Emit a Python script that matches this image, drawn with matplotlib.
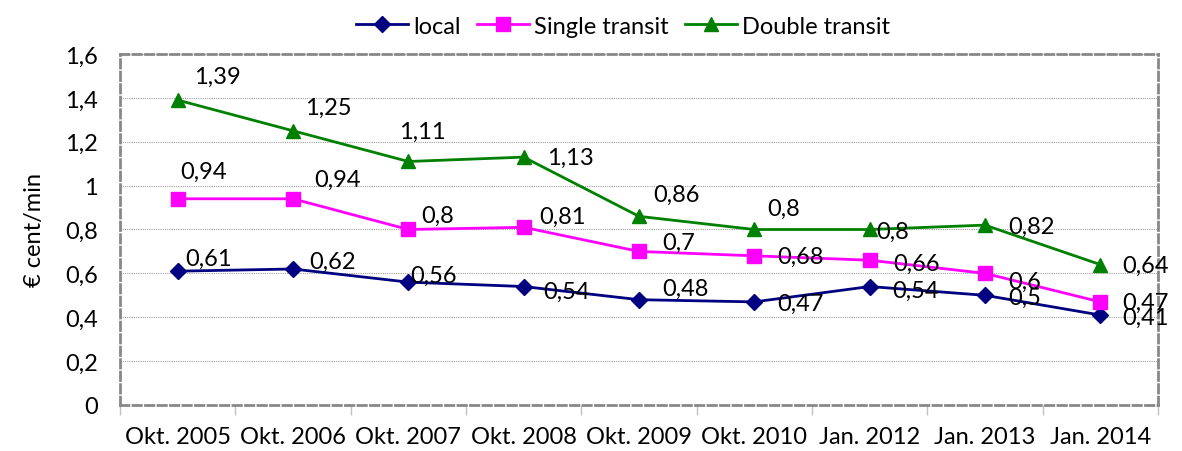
import matplotlib
matplotlib.use('Agg')
import matplotlib.pyplot as plt
from matplotlib.ticker import FuncFormatter, FixedLocator
import numpy as np

periods = ['Okt. 2005', 'Okt. 2006', 'Okt. 2007', 'Okt. 2008', 'Okt. 2009',
           'Okt. 2010', 'Jan. 2012', 'Jan. 2013', 'Jan. 2014']
local = [0.61, 0.62, 0.56, 0.54, 0.48, 0.47, 0.54, 0.50, 0.41]
single_transit = [0.94, 0.94, 0.80, 0.81, 0.70, 0.68, 0.66, 0.60, 0.47]
double_transit = [1.39, 1.25, 1.11, 1.13, 0.86, 0.80, 0.80, 0.82, 0.64]

# label offsets in pixels (left edge of text, vertical centre; +y is up)
off_local = [(8, 13), (16, 8), (2, 7), (20, -5), (23, 11), (23, -1), (23, -4), (23, -2), (22, -2)]
off_single = [(3, 27), (21, 19), (13, 14), (16, 11), (23, 9), (23, -1), (24, -3), (23, -8), (22, 0)]
off_double = [(16, 24), (12, 23), (-9, 30), (23, 0), (14, 22), (13, 21), (7, -2), (23, -1), (22, -1)]

plt.rcParams['font.family'] = ['Lato', 'DejaVu Sans']
FS = 17

def fmt(v):
    s = ('%.2f' % v).rstrip('0').rstrip('.')
    return s.replace('.', ',')

fig = plt.figure(figsize=(11.82, 4.52), dpi=100)
ax = fig.add_axes([0.1015, 0.1018, 0.8782, 0.7765])

x = np.arange(len(periods))
series = [
    ('local', local, '#000080', 'D', 8, off_local),
    ('Single transit', single_transit, '#FF00FF', 's', 10, off_single),
    ('Double transit', double_transit, '#008000', '^', 10, off_double),
]
for name, vals, col, mk, ms, offs in series:
    ax.plot(x, vals, color=col, lw=2, marker=mk, ms=ms, label=name, zorder=3)
    for xi, v, (dx, dy) in zip(x, vals, offs):
        ax.annotate(fmt(v), (xi, v), xytext=(dx, dy), textcoords='offset pixels',
                    ha='left', va='center', fontsize=FS, color='black',
                    annotation_clip=False, zorder=4)

ax.set_xlim(-0.5, len(periods) - 0.5)
ax.set_ylim(0, 1.6)
ax.set_yticks(np.arange(0, 1.61, 0.2))
ax.yaxis.set_major_formatter(FuncFormatter(lambda v, p: fmt(v)))
ax.set_xticks(x)
ax.set_xticklabels(periods)
ax.xaxis.set_minor_locator(FixedLocator(np.arange(-0.5, len(periods), 1.0)))
ax.tick_params(axis='x', which='major', length=0, pad=15, labelsize=FS)
ax.tick_params(axis='x', which='minor', length=7, color='#c0c0c0', width=1)
ax.tick_params(axis='y', length=0, pad=16, labelsize=FS)
ax.set_ylabel('€ cent/min', fontsize=FS, labelpad=14)

ax.grid(axis='y', color='#a0a0a0', lw=0.8, ls=(0, (1, 1)))
ax.set_axisbelow(True)
for sp in ax.spines.values():
    sp.set_color('#888888')
    sp.set_linewidth(2)
    sp.set_linestyle((0, (3, 1.5)))

fig.legend(loc='upper center', bbox_to_anchor=(0.527, 1.01), ncol=3, frameon=False,
           fontsize=FS, handlelength=2.2, handletextpad=0.2, columnspacing=0.7)

fig.savefig('out.png', dpi=100)
